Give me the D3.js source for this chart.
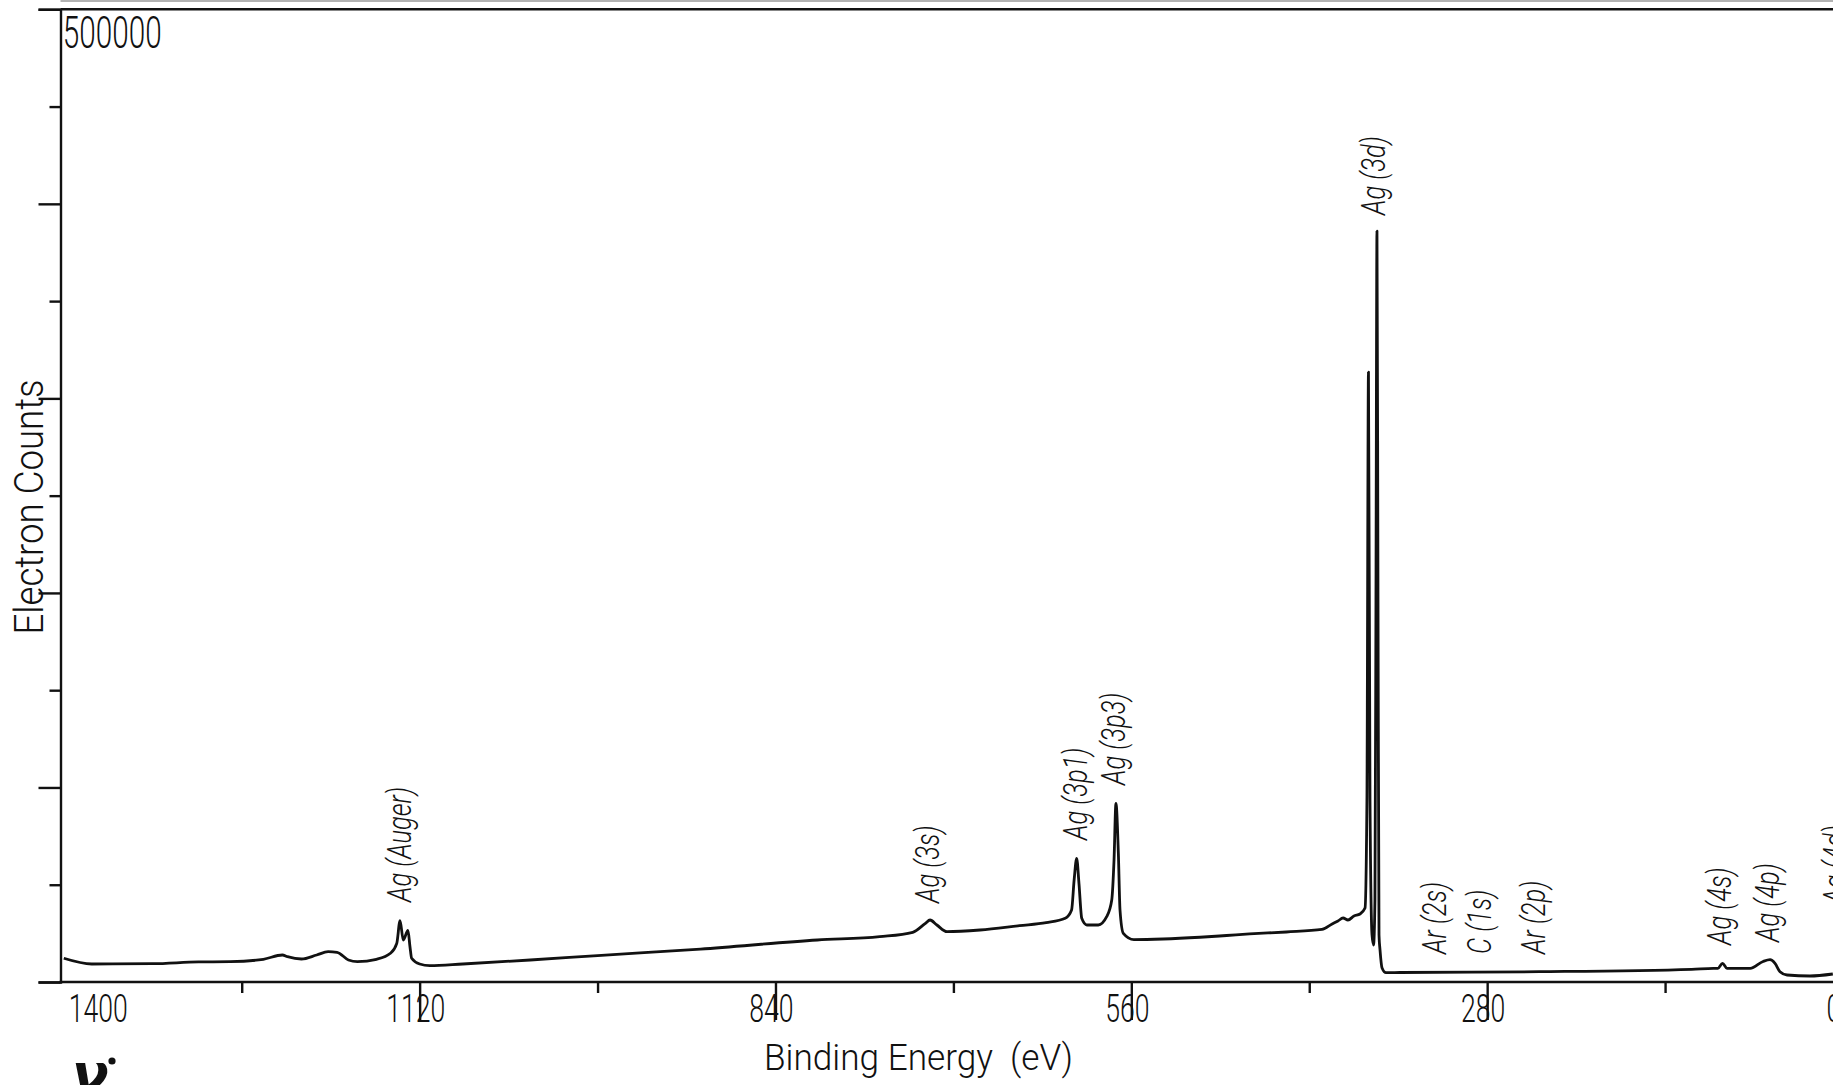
<!DOCTYPE html>
<html><head><meta charset="utf-8">
<script src="https://cdn.jsdelivr.net/npm/d3@7"></script>
<style>
html,body{margin:0;padding:0;background:#fff;overflow:hidden}
svg{display:block}
text{font-family:Roboto,"Liberation Sans",sans-serif;font-weight:300;fill:#111;white-space:pre}
</style></head><body>
<svg id="c" width="1833" height="1085"></svg>
<script>
// ---- data (binding energy in eV, descending; electron counts) ----
const bindingEnergy = [1400,1378,1330,1294,1269,1243,1228,1224,1213,1201,1192,1185,1176,1169,1154,1143,1138,1135.4,1132.9,1129.2,1127.6,1126.3,1120,1112,1086,1033,980,899,807,758,732,722,718.4,713,705,679,648,627,612,607,605,603,601.2,599,595,586,579.4,575.4,573.6,572.1,570.2,568.9,566.3,558,535,506,485,467,438,410,402,397.4,393.4,389.5,384.8,380.1,376.1,374.6,373.4,372.2,370.6,369.4,368.3,367.5,366.7,365.9,365.1,364.3,362.7,359.6,348.6,239,119,102,98.4,94.8,91.3,73,62.9,57.4,53.5,49.6,44,26,8];
const electronCounts = [12200,9250,9400,10300,10430,11670,13880,13000,11820,13880,15570,15270,11300,10430,11670,14750,19890,31510,21600,26470,18140,12180,9250,8380,9250,11310,13600,16900,21590,23280,25550,30170,31870,29300,25850,26730,28940,30480,32740,37010,52430,63580,50730,32740,29300,29300,33560,42150,62710,91850,66150,37010,25030,21800,22100,23000,23900,24700,25700,27000,29810,31350,32900,31870,33920,34950,38040,93550,313540,93550,24160,19020,42150,196350,386010,196350,24160,16450,7200,4780,4880,5290,6530,7040,7040,9610,7040,7040,10540,11460,9610,5290,3600,3080,4110];

const xMajorTicks = [1120,840,560,280];
const xMinorTicks = [1260,980,700,420,140];
const xTickLabels = ["1400","1120","840","560","280","0"];
const xTickLabelValues = [1400,1120,840,560,280,0];
const yMajorTicks = [0,100000,200000,300000,400000,500000];
const yMinorTicks = [50000,150000,250000,350000,450000];
const yTopLabel = "500000";

const peakLabels = ["Ag (Auger)","Ag (3s)","Ag (3p1)","Ag (3p3)","Ag (3d)","Ar (2s)","C (1s)","Ar (2p)","Ag (4s)","Ag (4p)","Ag (4d)"];
const peakLabelBE = [1135,719,603,573,368,320,285,242,96,58,5];
const peakLabelCounts = [41120,40610,72990,101260,394240,14390,14390,14390,19020,20560,40090];

const xTitle = "Binding Energy  (eV)";
const yTitle = "Electron Counts";

// ---- drawing ----
const svg = d3.select("#c");
const x = d3.scaleLinear().domain([1400,0]).range([63.8,1843]);
const y = d3.scaleLinear().domain([0,500000]).range([982,9.3]);
const axisLeftX = 60.5;

function measure(str, size, style){
  const t = svg.append("text").attr("font-size",size).style("font-style",style||"normal").text(str);
  const w = t.node().getComputedTextLength(); t.remove(); return w;
}
function condense(sel, factor){
  sel.each(function(){
    const w = this.getComputedTextLength();
    d3.select(this).attr("textLength", w*factor).attr("lengthAdjust","spacingAndGlyphs");
  });
}

// faint top border remnant
svg.append("line").attr("x1",axisLeftX).attr("x2",1833).attr("y1",1).attr("y2",1)
  .attr("stroke","#999").attr("stroke-width",1.4);

// top frame line
svg.append("line").attr("x1",axisLeftX).attr("x2",1833).attr("y1",y(500000)).attr("y2",y(500000))
  .attr("stroke","#111").attr("stroke-width",2.4);

// y axis
const yAxisG = svg.append("g").attr("transform",`translate(${axisLeftX},0)`);
yAxisG.call(d3.axisLeft(y).tickValues(yMajorTicks).tickSize(22).tickFormat(""));
const yMinorG = svg.append("g").attr("transform",`translate(${axisLeftX},0)`);
yMinorG.call(d3.axisLeft(y).tickValues(yMinorTicks).tickSize(11).tickFormat(""));
yMinorG.select(".domain").remove();
svg.selectAll(".domain").attr("stroke","#111").attr("stroke-width",2.4);

// x axis
const xAxisG = svg.append("g").attr("transform",`translate(0,${y(0)})`);
xAxisG.call(d3.axisBottom(x).tickValues(xMajorTicks).tickSize(38).tickFormat(""));
xAxisG.select(".domain").remove();
svg.append("line").attr("x1",axisLeftX-1).attr("x2",1833).attr("y1",y(0)).attr("y2",y(0))
  .attr("stroke","#111").attr("stroke-width",2.6);
const xMinorG = svg.append("g").attr("transform",`translate(0,${y(0)})`);
xMinorG.call(d3.axisBottom(x).tickValues(xMinorTicks).tickSize(11).tickFormat(""));
xMinorG.select(".domain").remove();
svg.selectAll(".tick line").attr("stroke","#111").attr("stroke-width",2.4);

// x tick labels
const tickSize = 39;
const tickFactor = 59 / measure("1120", tickSize);
const xl = svg.append("g").selectAll("text").data(xTickLabels).join("text")
  .attr("font-size",tickSize)
  .attr("y",1022)
  .attr("x",(d,i)=>{ const v=xTickLabelValues[i]; if(i===0) return x(v)+5; if(v===0) return x(v)-9; return x(v)-4; })
  .attr("text-anchor",(d,i)=> i===0 ? "start" : "middle")
  .text(d=>d);
condense(xl, tickFactor);

// top y label
const topSize = 43.5;
const tl = svg.append("text").attr("font-size",topSize).attr("x",62.7).attr("y",48.3).text(yTopLabel);
condense(tl, 99 / measure(yTopLabel, topSize));

// axis titles
const ytSize = 40;
const yt = svg.append("text").attr("font-size",ytSize).attr("text-anchor","middle")
  .attr("transform","translate(43,507) rotate(-90)").text(yTitle);
condense(yt, 255 / measure(yTitle, ytSize));

const xtSize = 36;
const xt = svg.append("text").attr("font-size",xtSize).attr("x",764).attr("y",1070).text(xTitle);
condense(xt, 309 / measure(xTitle, xtSize));

// spectrum line
const pts = bindingEnergy.map((b,i)=>({be:b, c:electronCounts[i]}));
const line = d3.line().x(d=>x(d.be)).y(d=>y(d.c)).curve(d3.curveMonotoneX);
svg.append("path").datum(pts).attr("d",line)
  .attr("fill","none").attr("stroke","#111").attr("stroke-width",2.8)
  .attr("stroke-linejoin","round");

// peak labels
const plSize = 33;
const plFactor = 115 / measure(peakLabels[0], plSize, "italic");
const pl = svg.append("g").selectAll("text").data(peakLabels).join("text")
  .attr("font-size",plSize).style("font-style","italic")
  .attr("transform",(d,i)=>`translate(${x(peakLabelBE[i])+10},${y(peakLabelCounts[i])}) rotate(-90)`)
  .text(d=>d);
condense(pl, plFactor);

// hand-written mark bottom-left
svg.append("text").attr("x",72).attr("y",1092).attr("font-size",54)
  .style("font-family","'DejaVu Sans',sans-serif").style("font-weight","bold").style("font-style","italic")
  .text("ν");
svg.append("circle").attr("cx",112).attr("cy",1061).attr("r",3.6).attr("fill","#111");
</script>
</body></html>
